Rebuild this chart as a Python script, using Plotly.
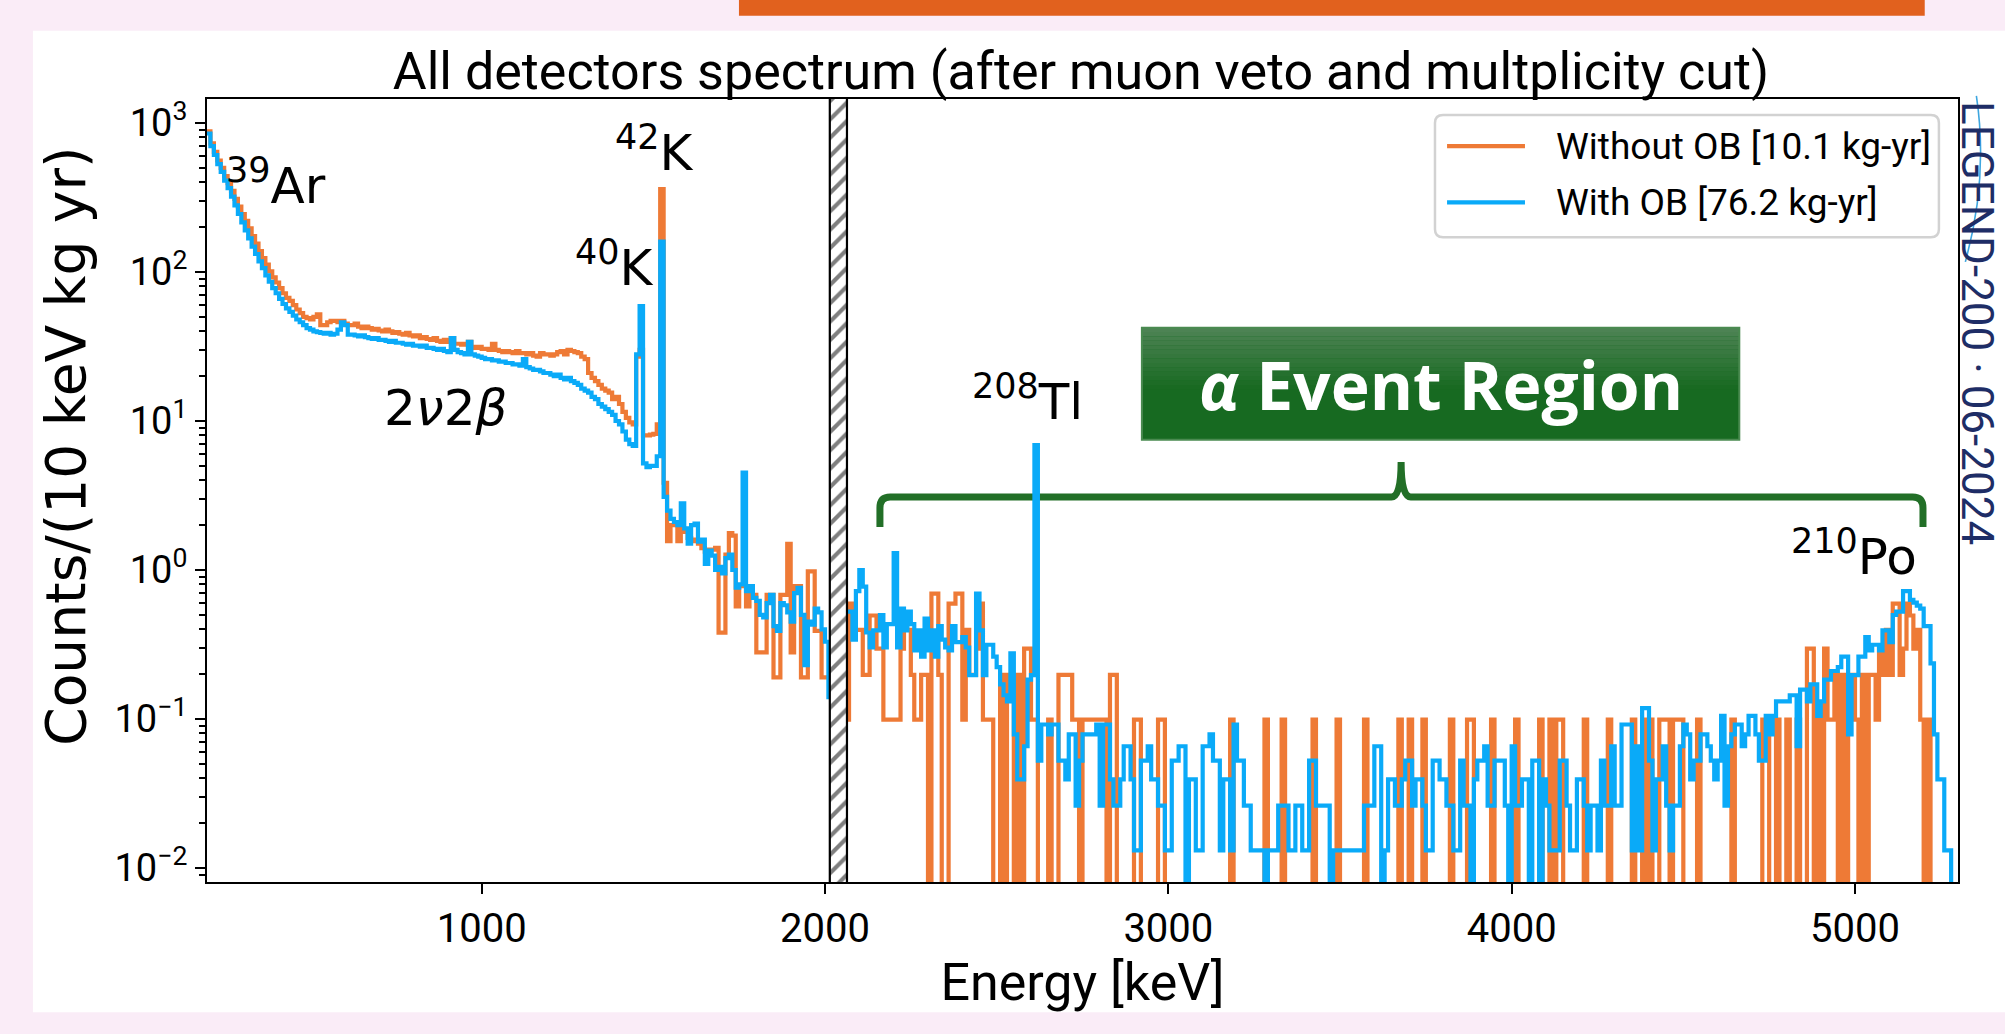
import numpy as np
import plotly.graph_objects as go

# ---------------------------------------------------------------------------
# Binning and exposures
# ---------------------------------------------------------------------------
BIN_WIDTH = 10            # keV
LOW_START = 200           # first bin edge of the spectrum below the blinded window
HIGH_START = 2060         # first bin edge of the spectrum above the blinded window
E_RANGE = (200, 5300)
BLIND_WINDOW = (2014, 2064)

EXPOSURE_NO_OB = 10.1     # kg yr
EXPOSURE_OB = 76.2        # kg yr

# Rates below the blinded window, counts/(10 keV kg yr), bins 200 ... 2010 keV
rate_no_ob_low = [
    880, 730, 640, 560, 500, 440, 395, 350, 310, 275,
    245, 220, 196, 174, 155, 138, 124, 112, 101, 92,
    85, 78, 72, 67, 64, 60, 56, 53, 50, 49,
    48, 50, 52, 44, 44, 46, 47, 47, 46, 47,
    45, 44, 44, 45, 43, 42, 43, 42, 41, 41.5,
    40.5, 40, 41, 40, 39, 39.5, 38.5, 38, 39, 37.5,
    37, 37.5, 36, 36.5, 35.5, 35, 36, 34.5, 34, 35,
    34, 36, 33, 33, 32.5, 33, 34, 31.5, 31, 31.5,
    30.5, 30.5, 30, 33, 30, 29.5, 29, 29.5, 29, 28.5,
    29.5, 28.5, 28.5, 28, 28.5, 27.5, 27, 28.5, 28, 28,
    27.5, 28, 29, 29.5, 28, 30, 29.5, 29, 28.5, 27,
    26, 21, 19.5, 18.5, 17.5, 16.5, 16, 15.5, 14, 14.5,
    13, 11.5, 10.5, 9.8, 9.5, 27, 30, 8.0, 8.0, 8.1,
    8.2, 9.5, 360, 3.85, 1.56, 2.0, 2.0, 1.56, 1.9, 1.8,
    1.64, 1.6, 1.56, 1.5, 1.4, 1.33, 1.37, 1.37, 1.41, 0.38,
    0.38, 1.27, 1.77, 1.7, 0.57, 0.78, 0.78, 0.57, 0.68, 0.68,
    0.28, 0.28, 0.28, 0.68, 0.68, 0.19, 0.19, 0.68, 0.68, 1.5,
    0.28, 0.78, 0.78, 0.19, 0.19, 0.98, 0.98, 0.39, 0.39, 0.19,
    0.19, 0.19,
]

rate_ob_low = [
    850, 700, 610, 530, 470, 410, 365, 320, 280, 245,
    215, 190, 168, 148, 132, 118, 106, 95, 86, 78,
    72, 66, 61, 57, 54, 51, 48, 46, 44, 42,
    41, 40, 39.5, 39, 38.5, 39, 38, 38.5, 41, 46,
    44, 38, 38, 37.5, 37, 37.5, 36.5, 36, 35.5, 36,
    35, 35, 34.5, 34, 34.5, 33.5, 33.5, 33, 32.5, 33,
    32, 32, 31.5, 32, 31, 31, 30.5, 30, 30.5, 29.5,
    29, 36, 30, 29, 28.5, 28, 34, 28, 27.5, 27,
    26.5, 26, 26, 25.5, 25.5, 25, 25, 24.5, 24.5, 24,
    24, 23.5, 26, 23, 22.5, 22, 22, 21.5, 21, 21,
    20.5, 20, 20.5, 19.5, 19, 19.5, 18.5, 18, 17.5, 16.5,
    16, 15.5, 14.5, 14, 13, 12.5, 12, 11.5, 11, 10,
    9.5, 8.5, 7.5, 7, 6.8, 28, 59, 5.2, 4.9, 5.0,
    5.0, 5.8, 160, 3.1, 2.5, 2.2, 2.1, 2.0, 2.8, 1.9,
    1.5, 2.0, 2.05, 1.55, 1.6, 1.1, 1.35, 1.25, 1.0, 1.05,
    0.95, 1.2, 1.27, 1.0, 0.76, 0.8, 4.5, 0.72, 0.78, 0.65,
    0.62, 0.5, 0.48, 0.6, 0.68, 0.42, 0.39, 0.6, 0.58, 0.52,
    0.45, 0.7, 0.76, 0.5, 0.23, 0.45, 0.43, 0.55, 0.52, 0.4,
    0.33, 0.14,
]

# Raw counts per 10 keV bin above the blinded window, bins 2060 ... 5290 keV
counts_no_ob_high = [
    1, 6, 4, 4, 4, 2, 2, 5, 5, 3,
    3, 1, 1, 1, 1, 1, 3, 4, 4, 2,
    1, 1, 2, 2, 0, 7, 7, 2, 0, 0,
    6, 6, 7, 7, 1, 4, 2, 2, 3, 6,
    1, 1, 1, 0, 0, 2, 0, 2, 2, 0,
    2, 0, 3, 3, 1, 1, 0, 0, 0, 1,
    0, 0, 2, 2, 2, 2, 1, 1, 0, 1,
    1, 1, 1, 1, 1, 1, 0, 2, 2, 0,
    0, 0, 0, 0, 1, 1, 0, 0, 0, 0,
    0, 1, 1, 0, 0, 0, 0, 0, 0, 0,
    0, 0, 0, 0, 0, 0, 0, 0, 0, 0,
    0, 0, 1, 0, 0, 0, 0, 0, 0, 0,
    0, 0, 1, 0, 0, 0, 0, 1, 0, 0,
    0, 0, 0, 0, 0, 0, 1, 0, 0, 0,
    0, 0, 0, 1, 0, 0, 0, 0, 0, 0,
    0, 1, 0, 0, 0, 0, 0, 0, 0, 0,
    0, 1, 0, 0, 1, 0, 0, 0, 1, 0,
    0, 0, 0, 0, 0, 0, 1, 0, 0, 0,
    0, 1,
    1, 0, 0, 0, 0, 0, 1, 0, 0, 0,
    0, 0, 0, 1, 0, 0, 0, 0, 0, 0,
    1, 0, 0, 1, 0, 1, 1, 0, 0, 0,
    0, 0, 0, 1, 0, 0, 0, 0, 0, 0,
    1, 0, 0, 0, 0, 0, 0, 1, 0, 0,
    1, 0, 1, 0, 0, 1, 1, 1, 0, 1,
    1, 1, 0, 0, 0, 0, 1, 0, 0, 0,
    0, 0, 0, 0, 0, 0, 1, 0, 0, 0,
    0, 0, 0, 0, 0, 1, 1, 0, 0, 1,
    0, 0, 1, 0, 0, 1, 0, 0, 3, 3,
    0, 1, 0, 3, 1, 1, 2, 0, 2, 0,
    2, 2, 1, 0, 2, 0, 2, 2, 1, 3,
    2, 4, 2, 6, 6, 2, 3, 6, 5, 3,
    4, 1, 0, 1, 0, 0, 0, 0, 0, 0,
    0, 0,
]

counts_ob_high = [
    40, 40, 26, 55, 76, 59, 29, 23, 30, 30,
    38, 23, 33, 33, 99, 23, 42, 30, 40, 33,
    22, 30, 20, 36, 22, 30, 20, 32, 26, 23,
    22, 32, 25, 25, 27, 23, 15, 15, 53, 30,
    15, 24, 24, 20, 17, 13, 11, 10, 21, 6,
    3, 3, 5, 14, 15, 525, 4, 7, 7, 6,
    7, 7, 4, 4, 3, 6, 6, 2, 4, 6,
    6, 6, 6, 7, 2, 7, 7, 3, 2, 2,
    3, 5, 5, 3, 1, 1, 4, 4, 5, 3,
    3, 2, 2, 1, 1, 4, 4, 5, 5, 0,
    3, 3, 1, 1, 5, 5, 6, 4, 4, 1,
    3, 3, 1, 7, 4, 4, 2, 2, 1, 1,
    1, 1, 0, 1, 1, 1, 2, 2, 2, 1,
    1, 2, 2, 1, 1, 4, 4, 2, 2, 2,
    2, 0, 1, 1, 1, 1, 1, 1, 1, 1,
    1, 2, 2, 2, 5, 5, 0, 1, 3, 3,
    2, 2, 3, 4, 4, 2, 3, 3, 2, 1,
    1, 4, 4, 3, 3, 2, 2, 1, 1, 4,
    2, 2,
    0, 3, 4, 4, 5, 2, 2, 4, 4, 4,
    2, 0, 5, 2, 2, 3, 3, 0, 4, 4,
    0, 3, 2, 1, 1, 1, 4, 4, 2, 1,
    1, 3, 3, 2, 1, 2, 2, 1, 4, 2,
    2, 5, 2, 2, 7, 7, 7, 1, 5, 1,
    9, 9, 4, 1, 3, 3, 5, 2, 1, 2,
    2, 5, 7, 6, 3, 4, 4, 6, 6, 5,
    4, 3, 4, 8, 2, 5, 6, 7, 7, 5,
    6, 8, 8, 6, 4, 4, 8, 6, 8, 10,
    10, 10, 10, 11, 11, 5, 12, 12, 10, 13,
    13, 8, 10, 14, 14, 16, 16, 17, 20, 20,
    6, 15, 15, 20, 20, 27, 22, 24, 24, 22,
    30, 30, 25, 38, 40, 40, 55, 55, 48, 46,
    44, 42, 32, 32, 18, 6, 3, 3, 1, 1,
    0, 0,
]

# Empty bins are pushed far below the visible log range so the step drops off the axis
LOG_FLOOR = 1e-5

ORANGE = "#EE7A36"
BLUE = "#0AAAF8"
LINE_W = 4.2

LABEL_NO_OB = f"Without OB [{EXPOSURE_NO_OB} kg-yr]"
LABEL_OB = f"With OB [{EXPOSURE_OB} kg-yr]"


def step_segment(start, rates):
    """Bin edges plus a closing edge so the last bin is drawn with its full width."""
    edges = [start + BIN_WIDTH * i for i in range(len(rates) + 1)]
    ys = [r if r > 0 else LOG_FLOOR for r in rates]
    return edges, ys + [ys[-1]]


def spectrum(rate_low, counts_high, exposure):
    rate_high = [c / exposure for c in counts_high]
    x_lo, y_lo = step_segment(LOW_START, rate_low)
    x_hi, y_hi = step_segment(HIGH_START, rate_high)
    return x_lo + [None] + x_hi, y_lo + [None] + y_hi


x_no_ob, y_no_ob = spectrum(rate_no_ob_low, counts_no_ob_high, EXPOSURE_NO_OB)
x_ob, y_ob = spectrum(rate_ob_low, counts_ob_high, EXPOSURE_OB)

fig = go.Figure()
fig.add_trace(go.Scatter(
    x=x_no_ob, y=y_no_ob, mode="lines",
    line=dict(color=ORANGE, width=LINE_W, shape="hv"),
    name=LABEL_NO_OB, showlegend=False, hoverinfo="skip",
))
fig.add_trace(go.Scatter(
    x=x_ob, y=y_ob, mode="lines",
    line=dict(color=BLUE, width=LINE_W, shape="hv"),
    name=LABEL_OB, showlegend=False, hoverinfo="skip",
))

# Hatched blinded window around Q_bb
b_lo, b_hi = BLIND_WINDOW
fig.add_trace(go.Scatter(
    x=[b_lo, b_hi, b_hi, b_lo, b_lo],
    y=[LOG_FLOOR, LOG_FLOOR, 1e6, 1e6, LOG_FLOOR],
    mode="lines", fill="toself", fillcolor="white",
    fillpattern=dict(shape="/", fgcolor="black", bgcolor="white", size=13, solidity=0.32),
    line=dict(color="black", width=2.2),
    showlegend=False, hoverinfo="skip",
))

shapes = []

# Page background panel and the header strip
shapes.append(dict(type="rect", xref="paper", yref="paper", x0=-0.0994, x1=1.03,
                   y0=-0.1665, y1=1.0871, fillcolor="white", line=dict(width=0), layer="below"))
shapes.append(dict(type="rect", xref="paper", yref="paper", x0=0.3038, x1=0.981,
                   y0=1.1063, y1=1.14, fillcolor="#E1611E", line=dict(width=0), layer="below"))

# Green label box with a soft vertical gradient at the top
box_x0, box_x1 = 2923, 4663
box_y0, box_y1 = 0.5647, 0.708
top_rgb = np.array([80, 132, 86])
base_rgb = np.array([23, 106, 33])
shapes.append(dict(type="rect", xref="x", yref="paper", x0=box_x0, x1=box_x1,
                   y0=box_y0, y1=box_y1, fillcolor="rgb(23,106,33)", line=dict(width=0),
                   layer="below"))
n_bands = 14
grad_frac = 0.55
for i in range(n_bands):
    t = (i + 0.5) / n_bands
    c = (top_rgb + (base_rgb - top_rgb) * t).astype(int)
    ya = box_y1 - (box_y1 - box_y0) * grad_frac * i / n_bands
    yb = box_y1 - (box_y1 - box_y0) * grad_frac * (i + 1) / n_bands
    shapes.append(dict(type="rect", xref="x", yref="paper", x0=box_x0, x1=box_x1,
                       y0=yb, y1=ya, fillcolor=f"rgb({c[0]},{c[1]},{c[2]})",
                       line=dict(width=0), layer="below"))
shapes.append(dict(type="rect", xref="x", yref="paper", x0=box_x0, x1=box_x1,
                   y0=box_y0, y1=box_y1, fillcolor="rgba(0,0,0,0)",
                   line=dict(color="#4A8A50", width=2), layer="below"))

# Curly bracket spanning the alpha region
bl, bc, br = 2160, 3678, 5198
yh, ye, yt = 0.4917, 0.4533, 0.5365
bracket = (f"M {bl},{ye} L {bl},{yh - 0.014} Q {bl},{yh} {bl + 30},{yh} "
           f"L {bc - 28},{yh} Q {bc},{yh} {bc},{yt} Q {bc},{yh} {bc + 28},{yh} "
           f"L {br - 30},{yh} Q {br},{yh} {br},{yh - 0.014} L {br},{ye}")
shapes.append(dict(type="path", xref="x", yref="paper", path=bracket,
                   line=dict(color="#226F27", width=7), layer="below"))

# Legend box (rounded frame, long line samples)
lx0, lx1, ly0, ly1 = 0.7013, 0.9891, 0.8233, 0.9795
rx, ry = 0.0046, 0.0102
legend_path = (f"M {lx0 + rx},{ly1} L {lx1 - rx},{ly1} Q {lx1},{ly1} {lx1},{ly1 - ry} "
               f"L {lx1},{ly0 + ry} Q {lx1},{ly0} {lx1 - rx},{ly0} L {lx0 + rx},{ly0} "
               f"Q {lx0},{ly0} {lx0},{ly0 + ry} L {lx0},{ly1 - ry} Q {lx0},{ly1} {lx0 + rx},{ly1} Z")
shapes.append(dict(type="path", xref="paper", yref="paper", path=legend_path,
                   fillcolor="white", line=dict(color="#D2D2D2", width=2.5), layer="above"))
legend_rows = [(LABEL_NO_OB, ORANGE, 0.9398), (LABEL_OB, BLUE, 0.8681)]
for _, color, yrow in legend_rows:
    shapes.append(dict(type="line", xref="paper", yref="paper", x0=0.7082, x1=0.7527,
                       y0=yrow, y1=yrow, line=dict(color=color, width=LINE_W), layer="above"))

# Thin swoosh of the collaboration logo next to the side label
shapes.append(dict(type="path", xref="paper", yref="paper",
                   path="M 1.0105,1.004 Q 1.0175,0.90 1.0042,0.792",
                   line=dict(color="#3EA6DF", width=1.6), layer="above"))

annotations = []
for label, _, yrow in legend_rows:
    annotations.append(dict(text=label, x=0.7693, y=yrow, xref="paper", yref="paper",
                            xanchor="left", yanchor="middle", showarrow=False,
                            font=dict(family="Roboto", size=37, color="black")))

iso_font = dict(family="DejaVu Sans", size=50, color="black")
for text, ex, yp in [
    ("<sup>39</sup>Ar", 401, 0.893),
    ("<sup>42</sup>K", 1502, 0.936),
    ("<sup>40</sup>K", 1388, 0.788),
    ("<sup>208</sup>Tl", 2591, 0.617),
    ("<sup>210</sup>Po", 4998, 0.419),
]:
    annotations.append(dict(text=text, x=ex, y=yp, xref="x", yref="paper",
                            xanchor="center", yanchor="middle", showarrow=False,
                            font=iso_font))
annotations.append(dict(text="2<i>ν</i>2<i>β</i>", x=896, y=0.6056, xref="x", yref="paper",
                        xanchor="center", yanchor="middle", showarrow=False, font=iso_font))
annotations.append(dict(text="<b><i>α</i> Event Region</b>", x=(box_x0 + box_x1) / 2,
                        y=(box_y0 + box_y1) / 2, xref="x", yref="paper",
                        xanchor="center", yanchor="middle", showarrow=False,
                        font=dict(family="Open Sans", size=66, color="white")))
annotations.append(dict(text="LEGEND-200 · 06-2024", x=1.0108, y=0.714, xref="paper",
                        yref="paper", xanchor="center", yanchor="middle", showarrow=False,
                        textangle=90, font=dict(family="Roboto", size=44, color="#1E2D66")))

# y-axis title, placed level with the upper part of the axis
annotations.append(dict(text="Counts/(10 keV kg yr)", x=-0.0805, y=0.556, xref="paper",
                        yref="paper", xanchor="center", yanchor="middle", showarrow=False,
                        textangle=-90,
                        font=dict(family="DejaVu Sans", size=55, color="black")))

decades = [-2, -1, 0, 1, 2, 3]
minor_vals = [m * 10.0 ** d for d in range(-3, 4) for m in range(2, 10)]

fig.update_layout(
    width=2005, height=1034,
    margin=dict(l=207, r=47, t=99, b=152),
    paper_bgcolor="#FAECF7",
    plot_bgcolor="white",
    showlegend=False,
    title=dict(text="All detectors spectrum (after muon veto and multplicity cut)",
               x=0.4991, xref="paper", xanchor="center",
               y=0.932, yref="container", yanchor="middle",
               font=dict(family="Roboto", size=52, color="black")),
    xaxis=dict(
        range=list(E_RANGE), showline=True, linecolor="black", linewidth=2, mirror=True,
        ticks="outside", ticklen=10, tickwidth=2, tickcolor="black",
        tickvals=[1000, 2000, 3000, 4000, 5000],
        tickfont=dict(family="Roboto", size=40, color="black"),
        showgrid=False, zeroline=False,
        title=dict(text="Energy [keV]", font=dict(family="Roboto", size=52, color="black"),
                   standoff=10),
    ),
    yaxis=dict(
        type="log", range=[-2.094, 3.161],
        showline=True, linecolor="black", linewidth=2, mirror=True,
        ticks="outside", ticklen=10, tickwidth=2, tickcolor="black",
        tickvals=[10.0 ** d for d in decades],
        ticktext=[f"10<sup>{d}</sup>".replace("-", "\u2212") for d in decades],
        tickfont=dict(family="Roboto", size=38, color="black"),
        minor=dict(tickvals=minor_vals, ticks="outside", ticklen=6, tickwidth=1.5,
                   tickcolor="black", showgrid=False),
        showgrid=False, zeroline=False,
    ),
    shapes=shapes,
    annotations=annotations,
)

fig.write_html("out.html")
